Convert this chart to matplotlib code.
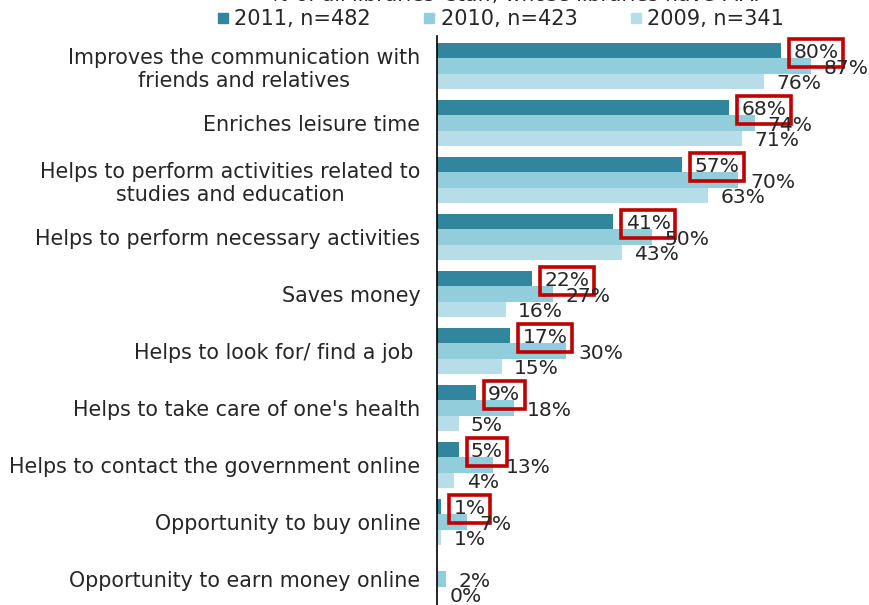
import numpy as np
import matplotlib.pyplot as plt
from matplotlib.lines import Line2D

categories = [
    "Improves the communication with\nfriends and relatives",
    "Enriches leisure time",
    "Helps to perform activities related to\nstudies and education",
    "Helps to perform necessary activities",
    "Saves money",
    "Helps to look for/ find a job ",
    "Helps to take care of one's health",
    "Helps to contact the government online",
    "Opportunity to buy online",
    "Opportunity to earn money online",
]
v2011 = [80, 68, 57, 41, 22, 17, 9, 5, 1, np.nan]
v2010 = [87, 74, 70, 50, 27, 30, 18, 13, 7, 2]
v2009 = [76, 71, 63, 43, 16, 15, 5, 4, 1, 0]
series_names = ["2011, n=482", "2010, n=423", "2009, n=341"]
colors = ["#31859C", "#92CDDC", "#B7DEE8"]
title = "% of all libraries' staff, whose libraries have PIAP"

W, H = 870, 605
fig = plt.figure(figsize=(W / 100, H / 100), dpi=100)
ax = fig.add_axes([437 / W, 0, 1 - 437 / W, (605 - 36) / H])

txt_col = "#262626"
fs = 14.6
h = 15.5 / 57
y = np.arange(len(categories))

series = [v2011, v2010, v2009]
for k, vals in enumerate(series):
    yy = y + (k - 1) * h
    ax.barh(yy, vals, height=h, color=colors[k], edgecolor="none")
    for yi, v in zip(yy, vals):
        if np.isnan(v):
            continue
        t = ax.annotate("%d%%" % v, xy=(v, yi), xytext=(9.0, -1.5),
                        textcoords="offset points", ha="left", va="center",
                        fontsize=fs, color=txt_col)
        if k == 0:
            t.set_bbox(dict(boxstyle="square,pad=0.22", facecolor="none",
                            edgecolor="#C00000", linewidth=2.6))

ax.set_xlim(0, (W - 437) / 4.3)
ax.set_ylim(9 + (605 - 579) / 57, -(66 - 36) / 57)
ax.set_yticks(y)
ax.set_yticklabels(categories, fontsize=14.9, color=txt_col)
for lab in ax.get_yticklabels():
    lab.set_multialignment("center")
ax.tick_params(axis="y", length=0, pad=12)
ax.set_xticks([])
for s in ["top", "right", "bottom"]:
    ax.spines[s].set_visible(False)
ax.spines["left"].set_color("black")
ax.spines["left"].set_linewidth(1.2)

handles = [Line2D([], [], marker="s", linestyle="none", markersize=6.5,
                  markerfacecolor=c, markeredgecolor=c) for c in colors]
fig.legend(handles, series_names, ncol=3, loc="center",
           bbox_to_anchor=(501 / W, 1 - 19 / H), frameon=False,
           fontsize=15, handlelength=0.5, handletextpad=0.3,
           columnspacing=2.55, labelcolor=txt_col, borderpad=0)

fig.text(518 / W, 1 + 4.5 / H, title, ha="center", va="center",
         fontsize=fs, color=txt_col)

fig.savefig("out.png", dpi=100)
